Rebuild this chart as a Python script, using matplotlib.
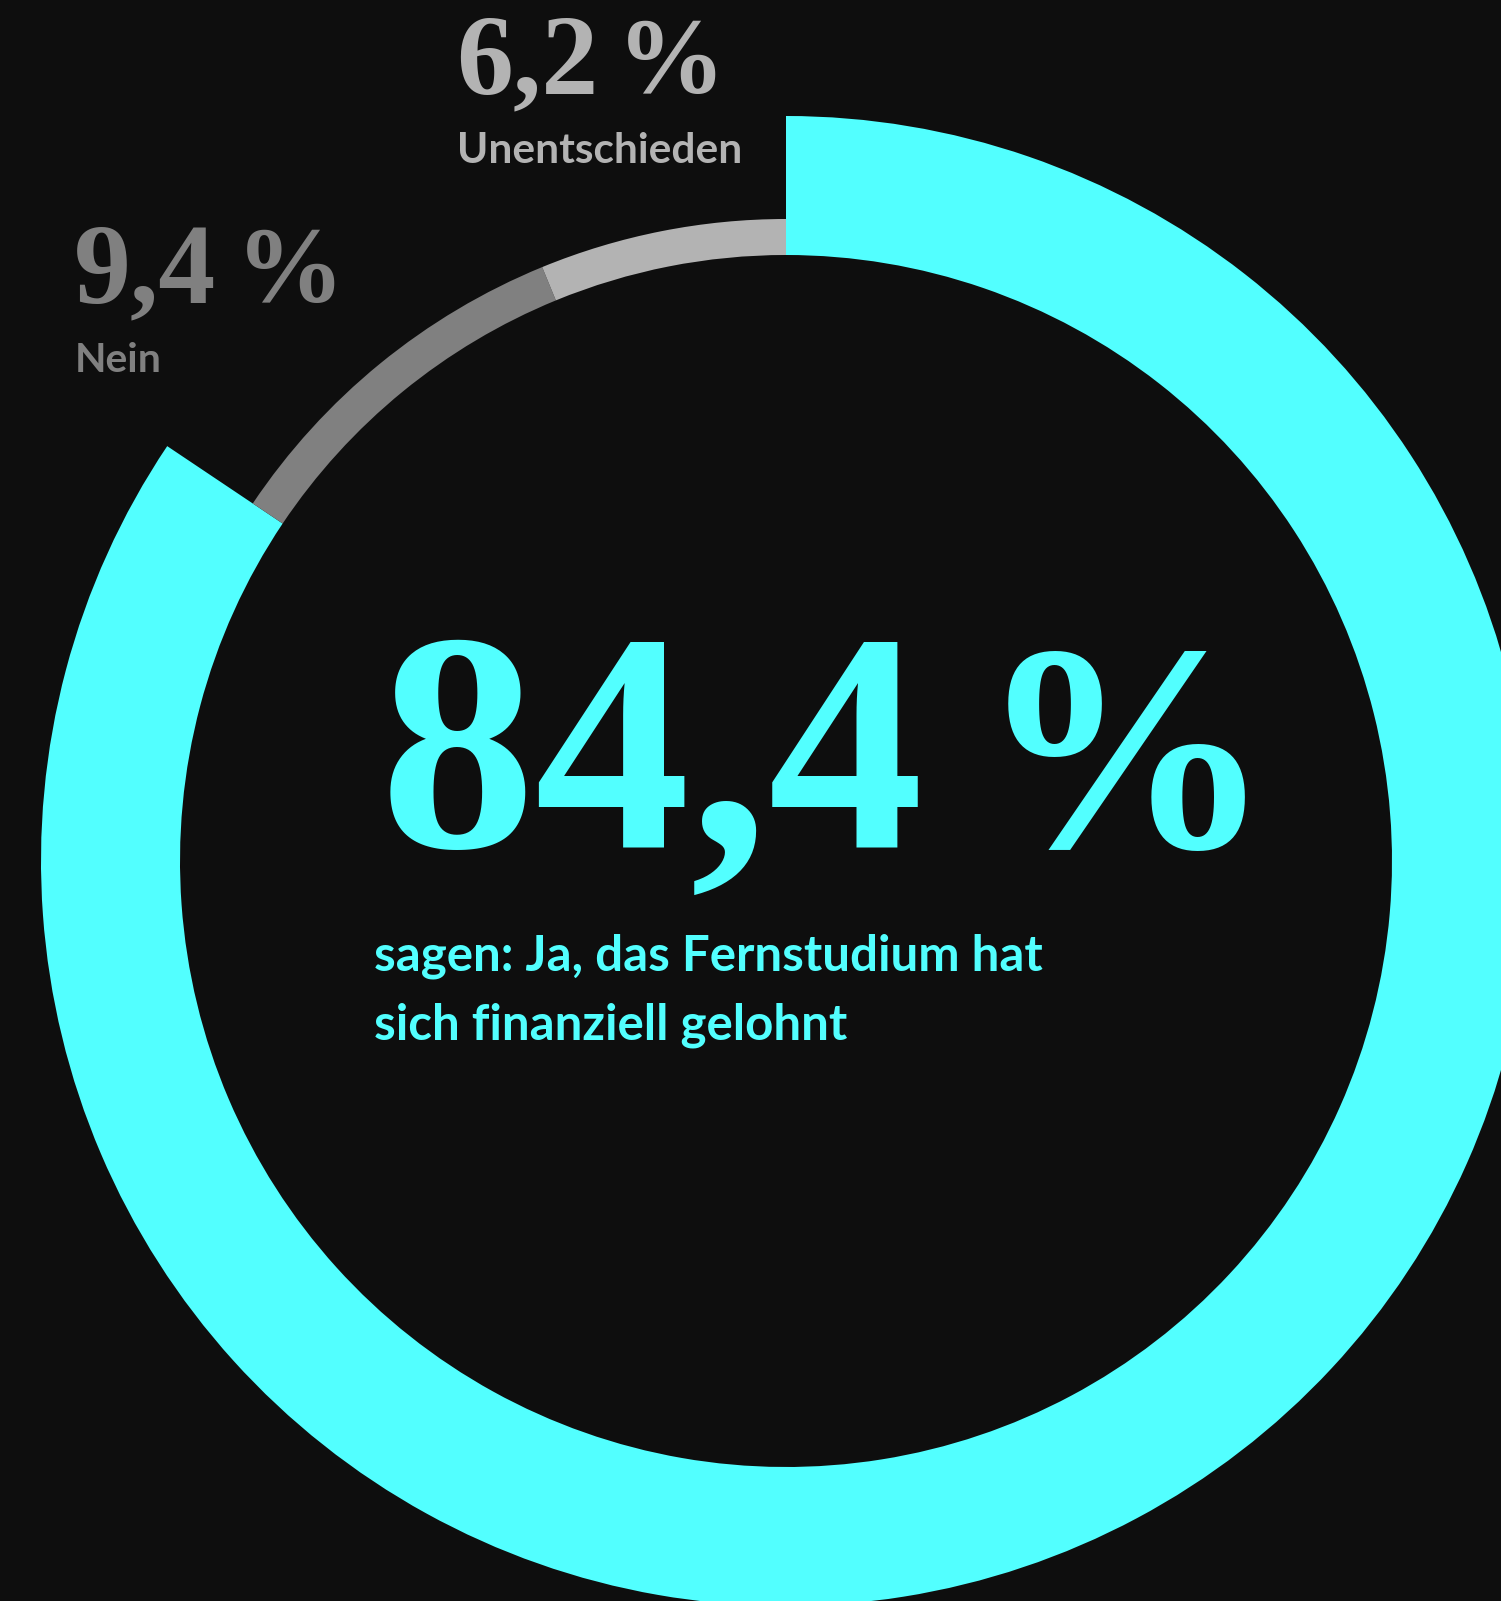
import matplotlib.pyplot as plt

# figure in pixel units
W, H = 1501, 1601
plt.rcParams['figure.dpi'] = 100

# data
labels = ["Ja", "Nein", "Unentschieden"]
values = [84.4, 9.4, 6.2]
value_txt = ["84,4", "9,4", "6,2"]

bg = '#0e0e0e'
cyan = '#52ffff'
dark_grey = '#808080'
light_grey = '#b3b3b3'

cx, cy = 786, 861
r_out, r_in, r_grey = 745, 606, 642

fig = plt.figure(figsize=(W / 100, H / 100), facecolor=bg)
ax = fig.add_axes([0, 0, 1, 1])
ax.set_facecolor(bg)

# y axis is inverted below, so clockwise on screen = counterclock in data
ax.pie(values, colors=[cyan, 'none', 'none'], radius=r_out, center=(cx, cy),
       startangle=-90, counterclock=True,
       wedgeprops=dict(width=r_out - r_in, linewidth=0))
ax.pie(values, colors=['none', dark_grey, light_grey], radius=r_grey, center=(cx, cy),
       startangle=-90, counterclock=True,
       wedgeprops=dict(width=r_grey - r_in, linewidth=0))

ax.set_xlim(0, W)
ax.set_ylim(H, 0)
ax.set_aspect('equal')
ax.axis('off')

serif = dict(family='Liberation Serif', weight='bold', va='baseline', ha='left')
sans = dict(family='Lato', weight='bold', va='baseline', ha='left')

# big number
ax.text(380, 847, value_txt[0], fontsize=224, color=cyan, **serif)
ax.text(978, 847, '%', fontsize=212, color=cyan, **serif)
ax.text(374, 970, 'sagen: Ja, das Fernstudium hat', fontsize=35.5, color=cyan, **sans)
ax.text(374, 1039, 'sich finanziell gelohnt', fontsize=35.5, color=cyan, **sans)

# Nein
ax.text(74, 302, value_txt[1], fontsize=82, color=dark_grey, **serif)
ax.text(236, 302, '%', fontsize=78, color=dark_grey, **serif)
ax.text(75, 372, labels[1], fontsize=29.5, color=dark_grey, **sans)

# Unentschieden
ax.text(456, 93, value_txt[2], fontsize=82, color=light_grey, **serif)
ax.text(617, 93, '%', fontsize=78, color=light_grey, **serif)
ax.text(457, 163, labels[2], fontsize=30.5, color=light_grey, **sans)

fig.savefig('out.png', dpi=100, facecolor=bg)
